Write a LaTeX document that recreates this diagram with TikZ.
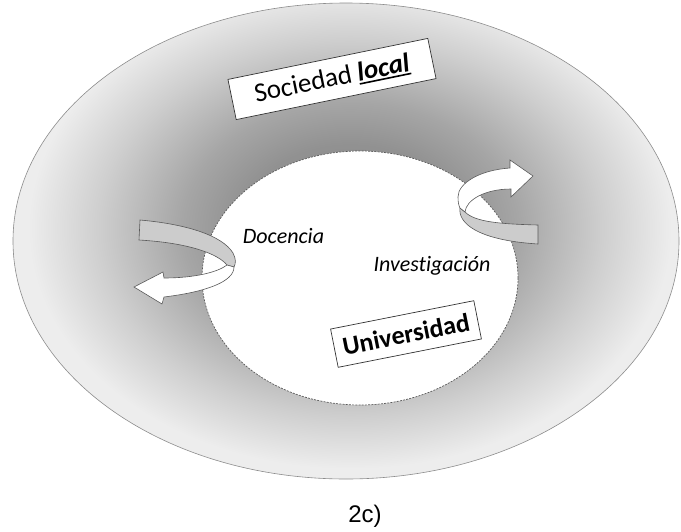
\documentclass[tikz,border=0pt]{standalone}
\usepackage{fontspec}
\setmainfont{Carlito}[Ligatures=NoCommon]
\newfontfamily\arialfont{Liberation Sans}
\definecolor{grisA}{gray}{0.50}
\definecolor{grisB}{gray}{0.57}
\definecolor{grisC}{gray}{0.65}
\definecolor{grisD}{gray}{0.81}
\definecolor{grisE}{gray}{0.93}
\pgfdeclareradialshading{anillo}{\pgfpoint{0bp}{0bp}}{color(0bp)=(grisA); color(8bp)=(grisB); color(12bp)=(grisC); color(18bp)=(grisD); color(23bp)=(grisE); color(50bp)=(grisE)}
\newcommand{\subrayado}[1]{{\setbox0\hbox{#1}\copy0\llap{\rule[-3.5pt]{\wd0}{1.6pt}}}}

\begin{document}
\begin{tikzpicture}[x=1pt,y=-1pt,
		cinta/.style={draw=black!65, line width=0.6pt, fill=black!20},
		frente/.style={draw=black!65, line width=0.6pt, fill=white},
		caja/.style={draw=black!80, line width=0.7pt, fill=white, inner sep=0pt}]
	\useasboundingbox (0,0) rectangle (681,531);
	%%%%% START %%%%%
	
	% sociedad
	\begin{scope}
		\clip (346,241) ellipse (333 and 238);
		\shade[shading=anillo] (350,228) ellipse (350 and 262);
	\end{scope}
	\draw[draw=black!45, line width=0.6pt] (346,241) ellipse (333 and 238);
	
	% universidad
	\draw[fill=white, draw=black!65, line width=0.7pt, dash pattern=on 2pt off 1.2pt] (360,278) ellipse (158 and 127);
	
	% flecha izquierda
	\draw[cinta] (140,220) .. controls (185,224) and (222,235) .. (233,253) .. controls (236,259) and (236,263) .. (234,267) -- (227,265) .. controls (218,254) and (190,243) .. (139,240) -- cycle;
	\draw[frente] (234,267) .. controls (234,282) and (205,292) .. (164,297) -- (162,304) -- (134,287) -- (163,272) -- (164,278) .. controls (195,278) and (218,272) .. (227,265) -- cycle;
	
	% flecha derecha
	\draw[cinta] (460,208) .. controls (458,222) and (475,240) .. (538,244) -- (538,225) .. controls (500,224) and (475,222) .. (465,212) -- cycle;
	\draw[frente] (465,212) .. controls (466,200) and (485,189) .. (511,189) -- (511,197) -- (533,176) -- (510,160) -- (510,168) .. controls (480,170) and (458,183) .. (458,197) .. controls (458,203) and (459,206) .. (460,208) -- cycle;
	
	% textos
	\node[caja, rotate=11.6, minimum width=204pt, minimum height=41pt] (sociedad) at (332,79) {\fontsize{27}{30}\selectfont Sociedad \subrayado{\textbf{\textit{local}}}};
	\node[caja, rotate=11.2, minimum width=146pt, minimum height=39pt] (universidad) at (406,334) {\fontsize{26}{30}\selectfont\textbf{Universidad}};
	\node[anchor=base] (docencia) at (283.5,243) {\fontsize{22}{24}\selectfont\textit{Docencia}};
	\node[anchor=base] (investigacion) at (432,271) {\fontsize{22}{24}\selectfont\textit{Investigación}};
	
	\node[anchor=base] (rotulo) at (365,522) {\arialfont\fontsize{24}{28}\selectfont 2c)};
	
	%%%%% END %%%%%
\end{tikzpicture}
\end{document}
